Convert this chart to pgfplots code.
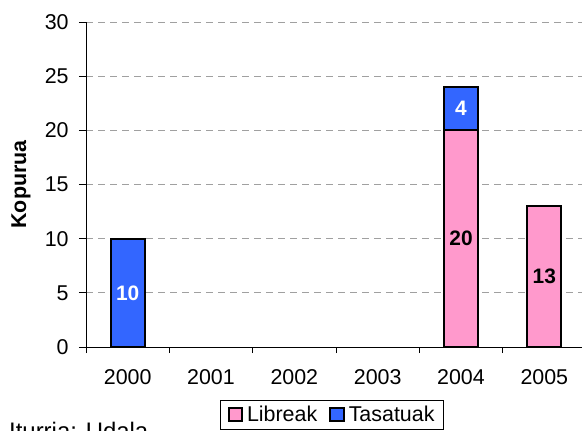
\documentclass[border=0pt]{standalone}
\usepackage{fontspec}
\setmainfont{Liberation Sans}
\usepackage{pgfplots}
\pgfplotsset{compat=1.18}
\definecolor{libpink}{HTML}{FF99CC}
\definecolor{tasblue}{HTML}{3366FF}
\definecolor{gridgray}{HTML}{A0A0A0}

\begin{document}
\fontsize{21.5}{25}\selectfont
\begin{tikzpicture}
\useasboundingbox (0,0) rectangle (582bp,431bp);
\begin{axis}[
  at={(86bp,84bp)}, anchor=south west,
  scale only axis, width=500bp, height=325bp,
  ybar stacked, bar width=34bp,
  xmin=-0.5, xmax=5.5, ymin=0, ymax=30,
  axis x line*=bottom, axis y line*=left,
  axis line style={line width=0.8bp},
  xtick={0,1,2,3,4,5},
  xticklabels={2000,2001,2002,2003,2004,2005},
  major x tick style={draw=none},
  minor xtick={-0.5,0.5,1.5,2.5,3.5,4.5,5.5},
  ytick={0,5,10,15,20,25,30},
  tick align=outside,
  major tick length=7bp, minor tick length=6bp,
  tick style={black, line width=0.8bp},
  ymajorgrids,
  major grid style={gridgray, dash pattern=on 7bp off 5bp, line width=0.8bp},
  /pgf/number format/assume math mode=true,
  ticklabel style={font=\fontsize{21.5}{25}\selectfont},
  xticklabel style={yshift=-8bp},
  yticklabel style={xshift=-3bp},
  ylabel={\bfseries Kopurua},
  ylabel style={at={(axis description cs:-0.13,0.5)}, anchor=center, font=\fontsize{21.5}{24}\selectfont},
  legend columns=2,
  legend style={at={(axis description cs:0.492,-0.164)}, anchor=north,
    draw=black, line width=0.8bp, font=\fontsize{21.5}{25}\selectfont,
    inner xsep=7bp, inner ysep=3bp,
    /tikz/every odd column/.append style={column sep=2bp},
    /tikz/every even column/.append style={column sep=10bp}},
  legend image code/.code={\draw[#1, draw=black, line width=2bp] (1bp,-6.3bp) rectangle (14.5bp,7.2bp);},
]
\addplot[fill=libpink, draw=black, line width=1.8bp] coordinates {(0,0) (4,20) (5,13)};
\addlegendentry{Libreak}
\addplot[fill=tasblue, draw=black, line width=1.8bp] coordinates {(0,10) (4,4) (5,0)};
\addlegendentry{Tasatuak}
\coordinate (l10) at (axis cs:0,5);
\coordinate (l4) at (axis cs:4,22);
\coordinate (l20) at (axis cs:4,10);
\coordinate (l13) at (axis cs:5,6.5);
\end{axis}
\begin{scope}[every node/.style={font=\fontsize{21}{24}\selectfont\bfseries}]
\node[text=white] at (l10) {10};
\node[text=white] at (l4) {4};
\node[text=black] at (l20) {20};
\node[text=black] at (l13) {13};
\end{scope}
\node[anchor=north west, inner sep=0, font=\fontsize{24}{28}\selectfont] at (9bp,9.5bp) {Iturria: Udala};
\end{tikzpicture}
\end{document}
